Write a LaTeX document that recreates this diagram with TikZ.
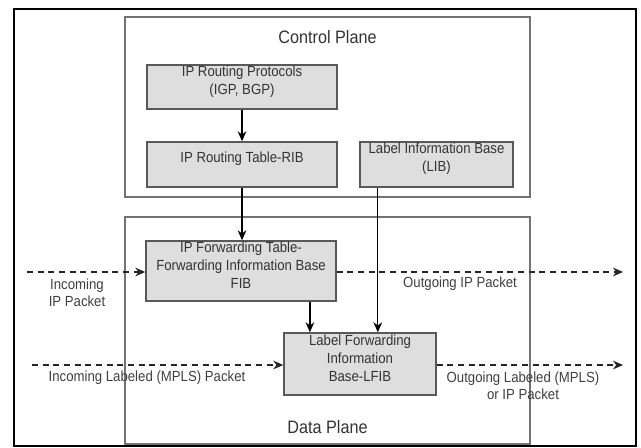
\documentclass[tikz,border=0pt]{standalone}
\usepackage{fontspec}
\setmainfont{Liberation Sans}[FakeStretch=0.9]
\usetikzlibrary{fit}
\usetikzlibrary{calc}
\usetikzlibrary{arrows.meta}

\tikzset{
  plane/.style={draw=black!55, line width=1.1pt, inner sep=0pt},
  table/.style={draw=black!65, fill=black!13, line width=1.1pt, inner sep=0pt, align=center, text=black!80, font=\fontsize{11}{13.5}\selectfont},
  flow/.style={line width=1pt, -{Stealth[length=7.5pt,width=6.5pt]}},
  packet/.style={black!85, line width=1.1pt, dash pattern=on 4.5pt off 3.5pt, -{Stealth[length=7.5pt,width=6.5pt]}},
  pktlabel/.style={align=center, text=black!75, inner sep=0pt, font=\fontsize{11}{13}\selectfont},
  planelabel/.style={text=black!80, inner sep=0pt, font=\fontsize{13.5}{15}\selectfont}
}

\begin{document}
\begin{tikzpicture}[x=0.75pt, y=-0.75pt]
	\useasboundingbox (0,0) rectangle (641,448);
	\draw[line width=2.2pt] (14,9) rectangle (636,446);
	% the two planes
	\node[plane, fit={(125,17) (530,197)}] (control) {};
	\node[plane, fit={(125,217) (530,444)}] (data) {};
	\node[planelabel] (ctltitle) at (327.5,37) {Control Plane};
	\node[planelabel] (datatitle) at (327.5,427) {Data Plane};
	% tables
	\node[table, fit={(147,65) (337,109)}] (proto) {IP Routing Protocols\\(IGP, BGP)};
	\node[table, fit={(147,142) (337,187)}] (rib) {IP Routing Table-RIB};
	\node[table, fit={(360,142) (513,187)}] (lib) {Label Information Base\\(LIB)};
	\node[table, fit={(146,241) (336,301)}] (fib) {IP Forwarding Table-\\Forwarding Information Base\\FIB};
	\node[table, fit={(284,333) (436,395)}] (lfib) {Label Forwarding\\Information\\Base-LFIB};
	% control flow
	\draw[flow] (proto) -- (rib);
	\draw[flow] (rib.south) -- (rib.south |- fib.north);
	\coordinate (fibdrop) at ($(fib.south west)!0.86!(fib.south east)$);
	\coordinate (libdrop) at ($(lib.south west)!0.12!(lib.south east)$);
	\draw[flow] (fibdrop) -- (fibdrop |- lfib.north);
	\draw[flow] (libdrop) -- (libdrop |- lfib.north);
	% packets
	\coordinate (inip) at (27,272);
	\coordinate (outip) at (623,272);
	\coordinate (inmpls) at (32,365);
	\coordinate (outmpls) at (623,365);
	\draw[packet] (inip) -- (inip -| fib.west);
	\draw[packet] (fib.east |- outip) -- (outip);
	\draw[packet] (inmpls) -- (inmpls -| lfib.west);
	\draw[packet] (lfib.east |- outmpls) -- (outmpls);
	\node[pktlabel] (inipl) at (77,293) {Incoming\\IP Packet};
	\node[pktlabel] (outipl) at (460,284) {Outgoing IP Packet};
	\node[pktlabel] (inmplsl) at (147,378) {Incoming Labeled (MPLS) Packet};
	\node[pktlabel] (outmplsl) at (523,386) {Outgoing Labeled (MPLS)\\or IP Packet};
\end{tikzpicture}
\end{document}
